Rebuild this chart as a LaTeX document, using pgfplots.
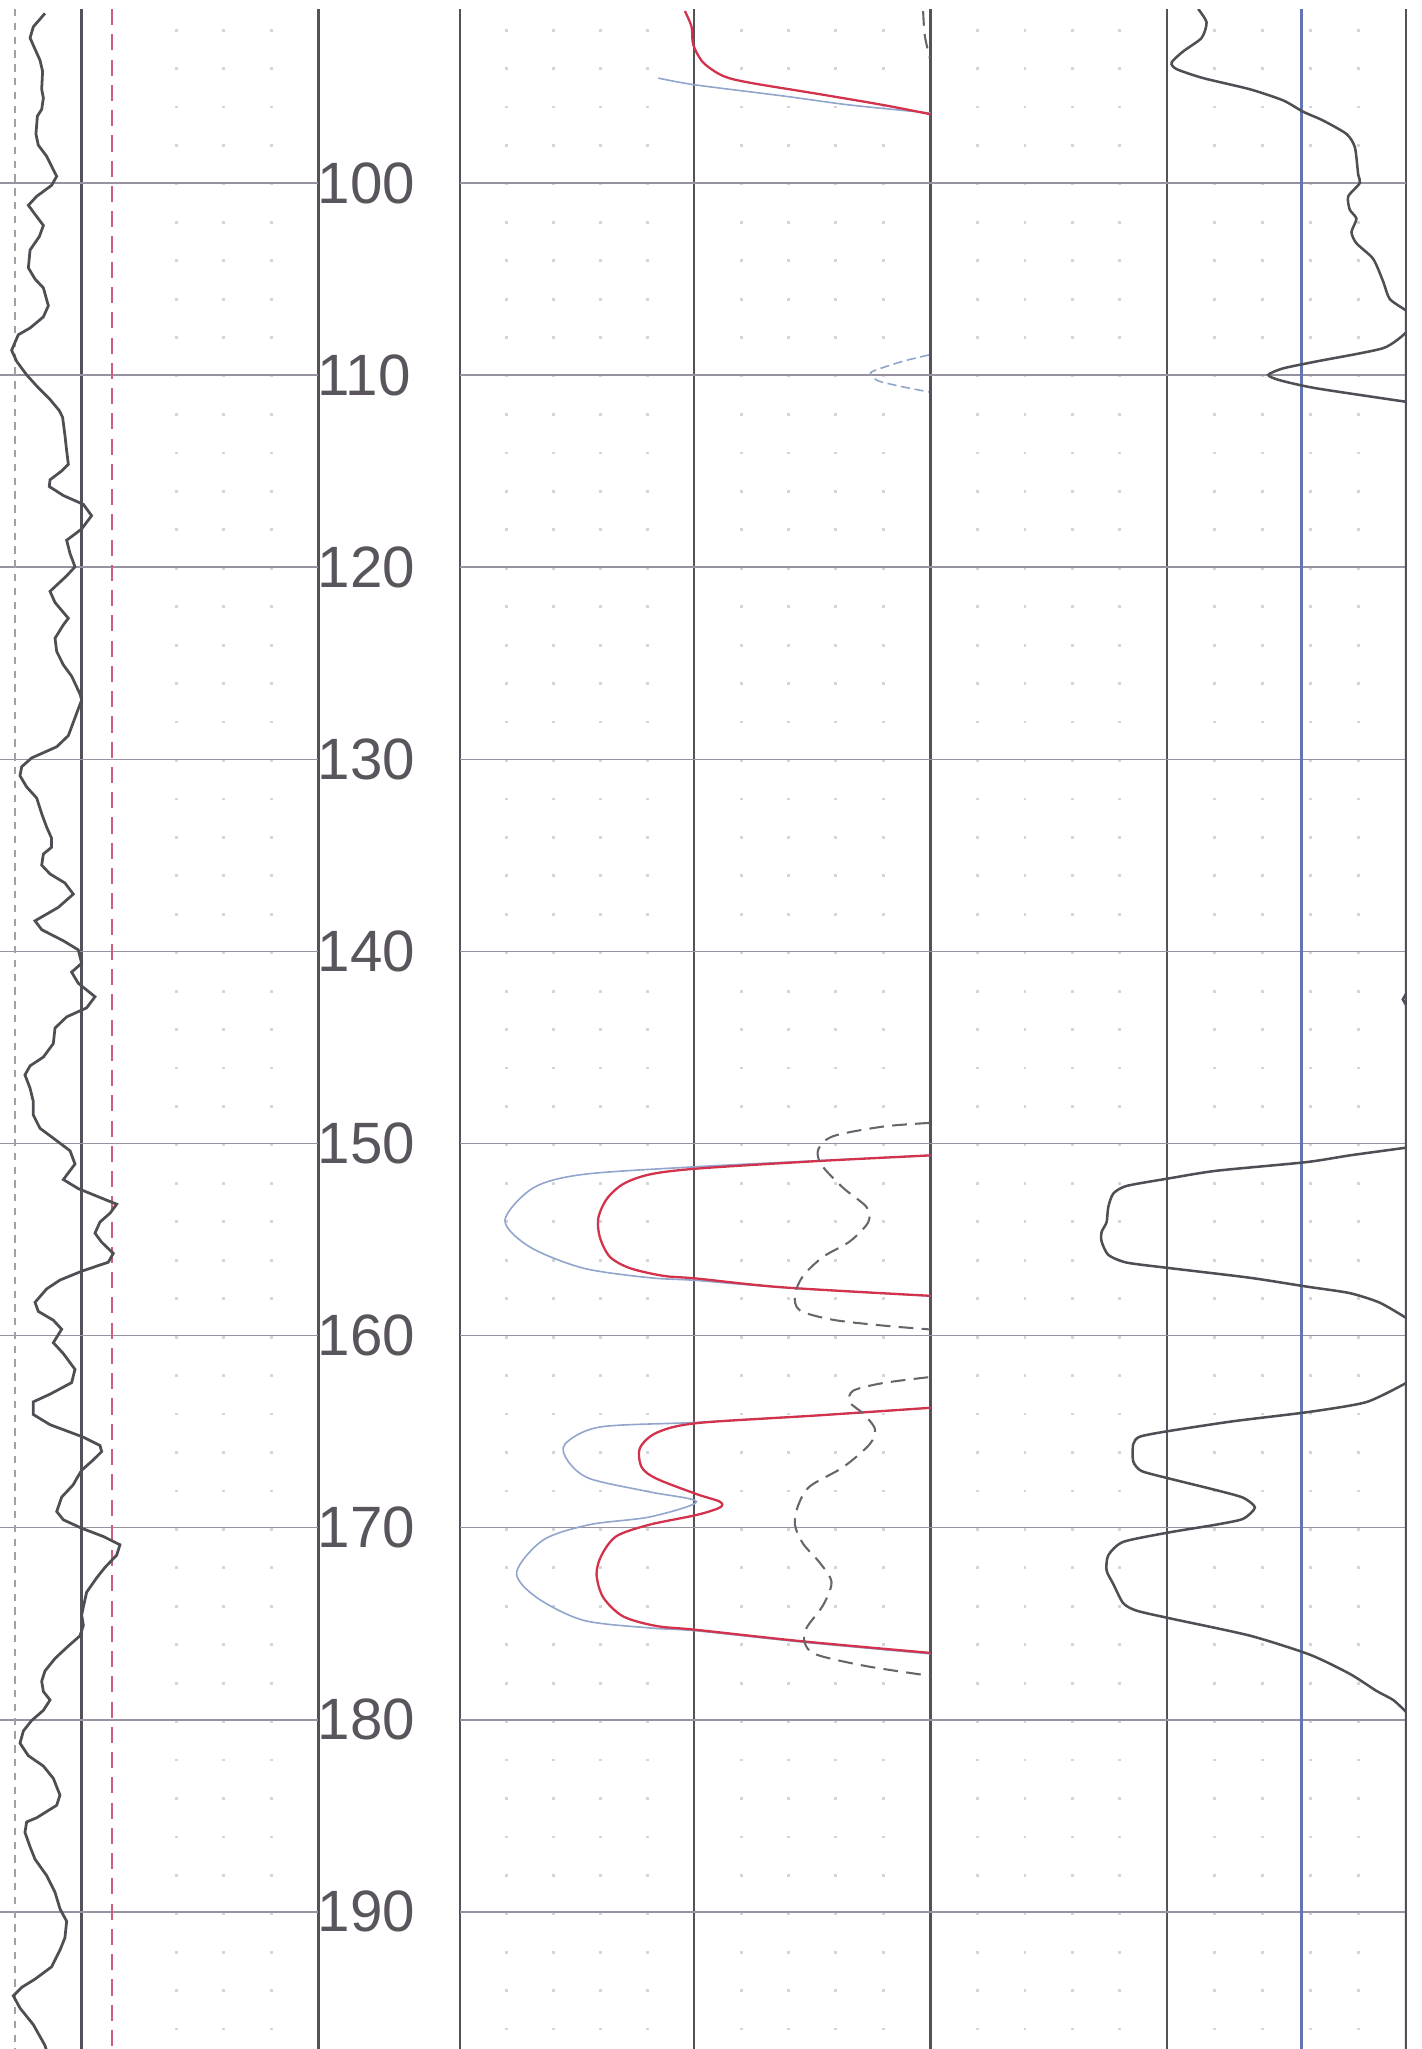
\documentclass[border=0pt]{standalone}
\usepackage{fontspec}
\setmainfont{Liberation Sans}
\usepackage{pgfplots}
\pgfplotsset{compat=1.18}
\definecolor{linecol}{RGB}{85,80,90}
\definecolor{gridcol}{RGB}{152,146,160}
\definecolor{dotcol}{RGB}{212,212,217}
\definecolor{bluecol}{RGB}{100,115,180}
\definecolor{reddash}{RGB}{205,95,125}
\definecolor{graydot}{RGB}{160,160,168}
\definecolor{curvecol}{RGB}{80,78,85}
\definecolor{redcurve}{RGB}{210,50,75}
\definecolor{bluecurve}{RGB}{145,165,205}
\definecolor{dashcurve}{RGB}{105,100,108}
\definecolor{labelcol}{RGB}{90,84,92}
\pgfplotsset{
  track/.style={scale only axis, height=15.61cm, ymin=90.95, ymax=197.14, y dir=reverse,
    axis line style={draw=none}, tick style={draw=none},
    xticklabels={}, yticklabels={},
    ytick={100,110,...,190},
    ymajorgrids, major y grid style={gridcol, line width=0.32pt},
    xmajorgrids, major x grid style={linecol, line width=0.55pt},
    xminorgrids, minor x grid style={dotcol, line width=0.6pt, dash pattern=on 0.6pt off 7.77pt, dash phase=4.1pt},
    anchor=south west},
  t3/.style={curvecol, line width=0.55pt, smooth, tension=0.4},
}
\begin{document}
\begin{tikzpicture}
\path[use as bounding box] (0,0) rectangle (10.88cm,15.68cm);
% ---------------- Track 1 ----------------
\begin{axis}[track, width=2.436cm, xmin=0, xmax=243.6, xtick={62.5,243.6}, minor xtick={135,171,208}, at={(0cm,0cm)}]
\addplot[graydot, line width=0.4pt, dash pattern=on 1.6pt off 1.4pt] coordinates {(11.5,90.95) (11.5,197.14)};
\addplot[reddash, line width=0.45pt, dash pattern=on 3.5pt off 2pt] coordinates {(85.5,90.95) (85.5,197.14)};
\addplot[curvecol, line width=0.6pt] coordinates {
(34.4,91.17) (25.5,91.87) (23,92.45) (26.8,93.03) (30.6,93.61) (32.6,94.19) (31.9,95.12) (33.2,95.58)
(31.9,96.17) (28.6,96.52) (27.5,97.45) (29.3,98.03) (35.7,98.61) (40.8,99.31) (43.4,99.65) (39.5,100.12)
(28,100.70) (21.7,101.16) (25.5,101.51) (33.2,102.21) (30.1,102.79) (23,103.49) (21.7,104.42) (26.8,105.00)
(33.2,105.46) (37,106.39) (33.2,106.97) (23,107.55) (14,107.90) (8.9,108.71) (12.8,109.29) (20.4,109.99)
(28.1,110.57) (38.3,111.27) (45.4,111.85) (47.9,112.20) (49.7,113.13) (51,113.94) (52.3,114.64) (47.2,114.99)
(38.3,115.45) (37.7,115.80) (48.5,116.27) (63.8,116.73) (70.1,117.32) (62.5,118.01) (51,118.60) (53.6,119.29)
(57.4,119.98) (51,120.45) (38.3,121.26) (42.1,121.84) (52.3,122.66) (48.5,123.00) (42.1,123.70) (43.4,124.39)
(48.5,125.09) (54.8,125.67) (61.2,126.60) (62.5,126.91) (58.7,127.60) (52.3,128.77) (43.4,129.35) (24.2,129.93)
(16.6,130.39) (15.3,130.86) (20.4,131.44) (28.1,132.02) (31.9,132.83) (35.7,133.53) (39.5,134.11) (39.5,134.58)
(33.2,134.93) (31.9,135.51) (38.3,135.97) (49.7,136.44) (56.1,137.02) (44.6,137.71) (26.8,138.41) (31.9,138.87)
(48.5,139.45) (59.9,139.92) (62.5,140.62) (54.8,141.08) (59.9,141.66) (72.7,142.36) (66.3,142.94) (51,143.41)
(42.1,143.99) (40.8,144.80) (33.2,145.50) (23,145.96) (19.1,146.43) (23,147.12) (25.5,147.82) (25.5,148.52)
(30.6,149.21) (42.1,149.79) (53.6,150.38) (57.4,151.07) (52.3,151.53) (48.5,151.88) (59.9,152.35) (76.5,152.81)
(89.3,153.16) (84.2,153.63) (76.5,154.09) (72.7,154.67) (77.8,155.14) (86.7,155.72) (82.9,156.18) (62.5,156.65)
(45.9,157.11) (35.7,157.57) (26.8,158.27) (29.3,158.74) (40.8,159.20) (47.2,159.67) (40.8,160.37) (48.5,160.94)
(57.4,161.76) (54.8,162.45) (38.3,163.05) (25.5,163.45) (25.5,164.11) (38.3,164.64) (63.8,165.29) (76.5,165.72)
(77.8,166.04) (71.4,166.47) (62.5,167.01) (58.7,167.44) (56.1,167.76) (47.2,168.41) (43.4,169.16) (48.5,169.59)
(62.5,170.03) (79.1,170.46) (91.8,170.89) (89.3,171.43) (80.3,172.07) (74,172.61) (66.3,173.36) (63.8,174.12)
(62.5,174.55) (63.8,175.09) (61.2,175.63) (52.3,176.16) (42.1,176.81) (34.4,177.46) (31.9,178.00) (33.2,178.53)
(38.3,178.97) (33.2,179.51) (24.2,180.04) (17.9,180.58) (15.3,181.22) (21.7,181.87) (33.2,182.41) (40.8,183.05)
(45.9,183.92) (43.4,184.45) (28.1,185.10) (20.4,185.32) (19.1,185.86) (23,186.61) (26.8,187.26) (35.7,188.11)
(42.1,188.98) (45.9,189.84) (51,190.49) (49.7,191.35) (45.9,191.99) (39.5,192.86) (26.8,193.50) (16.6,193.93)
(10.2,194.37) (15.3,195.01) (25.5,195.87) (34.4,196.95) (36,197.3)};
\end{axis}
% ---------------- Depth track ----------------
\begin{axis}[scale only axis, height=15.61cm, width=1.084cm, ymin=90.95, ymax=197.14, y dir=reverse,
  xmin=243.6, xmax=352, axis line style={draw=none}, tick style={draw=none}, xtick=\empty,
  ytick={100,110,...,190}, /pgf/number format/assume math mode=true,
  yticklabel style={anchor=west, inner sep=0pt, xshift=-0.3pt, font=\fontsize{12.7}{13}\selectfont, text=labelcol},
  at={(2.436cm,0cm)}, anchor=south west]
\addplot[draw=none] coordinates {(300,150)};
\end{axis}
% ---------------- Tracks 2 and 3 ----------------
\begin{axis}[track, width=7.24cm, xmin=352, xmax=1076, xtick={352,531,712,893,1076},
  minor xtick={387.8,423.6,459.4,495.2,567.2,603.4,639.6,675.8,748.2,784.4,820.6,856.8,929.6,966.2,1002.8,1039.4},
  at={(3.52cm,0cm)}]
\addplot[bluecol, line width=0.5pt] coordinates {(996,90.95) (996,197.14)};
% blue (shallow) curves
\addplot[bluecurve, line width=0.35pt, smooth, tension=0.5] coordinates {(503.7,94.54) (531.8,94.89) (599.3,95.47) (650.3,95.94) (712,96.36)};
\addplot[bluecurve, line width=0.35pt, smooth, tension=0.5] coordinates {(712,150.62) (624.8,150.90) (533,151.21) (446.3,151.61) (408.1,152.31) (386.4,154.00) (405.5,155.39) (446.3,156.49) (497.3,156.99) (533,157.13) (599.3,157.50) (712,157.94)};
\addplot[bluecurve, line width=0.35pt, smooth, tension=0.5] coordinates {(712,163.76) (624.8,164.16) (533,164.52) (459.1,164.76) (432.3,165.65) (434.8,166.55) (451.4,167.45) (497.3,168.14) (533,168.65) (497.3,169.44) (451.4,169.84) (415.7,170.64) (395.3,172.33) (410.6,173.63) (446.3,174.82) (497.3,175.22) (533,175.37) (614.6,175.96) (712,176.57)};
\addplot[bluecurve, line width=0.35pt, dash pattern=on 2pt off 1pt, smooth, tension=0.5] coordinates {(711,108.95) (690,109.3) (668,109.8) (667,110.0) (672,110.3) (690,110.6) (711,110.88)};
% red (deep) curves
\addplot[redcurve, line width=0.5pt, smooth, tension=0.5] coordinates {(524.1,91.05) (529.2,91.87) (530.5,92.80) (538.1,93.73) (553.4,94.43) (573.8,94.78) (624.8,95.35) (675.8,95.94) (712,96.42)};
\addplot[redcurve, line width=0.5pt, smooth, tension=0.5] coordinates {(712,150.62) (624.8,150.92) (533,151.31) (497.3,151.61) (476.9,152.11) (464.2,152.90) (457.8,153.90) (459.1,154.90) (466.7,155.90) (482,156.49) (507.5,156.89) (533,157.03) (599.3,157.49) (712,157.93)};
\addplot[redcurve, line width=0.5pt, smooth, tension=0.5] coordinates {(712,163.76) (624.8,164.16) (533,164.56) (502.4,165.06) (489.7,165.86) (491,166.85) (502.4,167.45) (533,168.25) (550.9,168.65) (550.9,168.95) (533,169.34) (497.3,169.84) (471.8,170.44) (460.3,171.44) (456.5,172.43) (461.6,173.63) (476.9,174.62) (502.4,175.12) (533,175.32) (614.6,175.92) (712,176.52)};
% gray dashed curves
\addplot[dashcurve, line width=0.45pt, dash pattern=on 3.2pt off 1.8pt, smooth, tension=0.5] coordinates {(706.4,91.05) (707.7,92.33) (711.5,93.50)};
\addplot[dashcurve, line width=0.45pt, dash pattern=on 3.2pt off 1.8pt, smooth, tension=0.5] coordinates {(711.5,148.93) (675.8,149.12) (637.6,149.62) (626.1,150.32) (628.7,151.12) (645.2,152.31) (663.1,153.31) (664.4,154.10) (650.3,155.10) (629.9,155.90) (614.6,156.89) (608.3,157.89) (612.1,158.69) (637.6,159.18) (675.8,159.48) (711.5,159.68)};
\addplot[dashcurve, line width=0.45pt, dash pattern=on 3.2pt off 1.8pt, smooth, tension=0.5] coordinates {(710.3,162.17) (675.8,162.47) (652.9,162.87) (650.3,163.47) (660.5,164.06) (669.5,164.86) (665.6,165.65) (645.2,166.85) (619.7,167.85) (610.8,168.84) (608.3,169.84) (614.6,170.84) (627.4,171.83) (636.3,172.83) (630,174.02) (617.2,175.22) (615.9,176.01) (624.8,176.61) (663.1,177.21) (711.5,177.71)};
% track 3 curve (segments; off-scale parts ride the right border)
\addplot[t3] coordinates {
(916.9,90.94) (923.3,91.64) (919.5,92.45) (905.4,93.15) (896.5,93.73) (900.3,94.07) (920.7,94.54) (956.4,95.12)
(981.9,95.70) (997.2,96.29) (1012.5,96.75) (1030.4,97.45) (1036.8,98.14) (1039.3,99.54) (1040.6,100.00) (1031.7,100.70)
(1032.9,101.39) (1038,101.86) (1034.2,102.56) (1038,103.14) (1050.8,103.95) (1058.4,105.12) (1063.5,106.04) (1076,106.63)};
\addplot[t3] coordinates {(1076,107.78) (1058.4,108.60) (1007.4,109.29) (981.9,109.65) (970.5,109.99) (979.4,110.27) (1007.4,110.69) (1076,111.39)};
\addplot[curvecol, line width=0.55pt] coordinates {(1076,106.63) (1076,142.2) (1073.5,142.5) (1076,142.8) (1076,197.3)};
\addplot[t3] coordinates {(1076,150.22) (1032.9,150.62) (999.8,150.97) (930.9,151.42) (895.2,151.81)
(862.1,152.21) (851.9,152.61) (848.1,153.31) (846.8,154.10) (843,154.60) (843,155.10) (848.1,155.80) (862.1,156.20)
(895.2,156.49) (956.4,156.99) (999.8,157.45) (1032.9,157.79) (1055.9,158.29) (1076,159.08)};
\addplot[t3] coordinates {(1076,162.47) (1045.7,163.46)
(1002.3,163.97) (943.7,164.46) (895.2,164.96) (872.3,165.26) (867.2,165.65) (867.2,166.55) (873.5,167.05) (895.2,167.45)
(930.9,168.05) (951.3,168.44) (960.3,168.95) (951.3,169.54) (930.9,169.84) (895.2,170.24) (859.5,170.74) (848.1,171.44)
(846.8,172.23) (851.9,172.93) (859.5,173.93) (869.7,174.32) (895.2,174.72) (956.4,175.62) (1002.3,176.61) (1032.9,177.61)
(1053.4,178.50) (1066.1,178.97) (1076,179.59)};
\end{axis}
\end{tikzpicture}
\end{document}
